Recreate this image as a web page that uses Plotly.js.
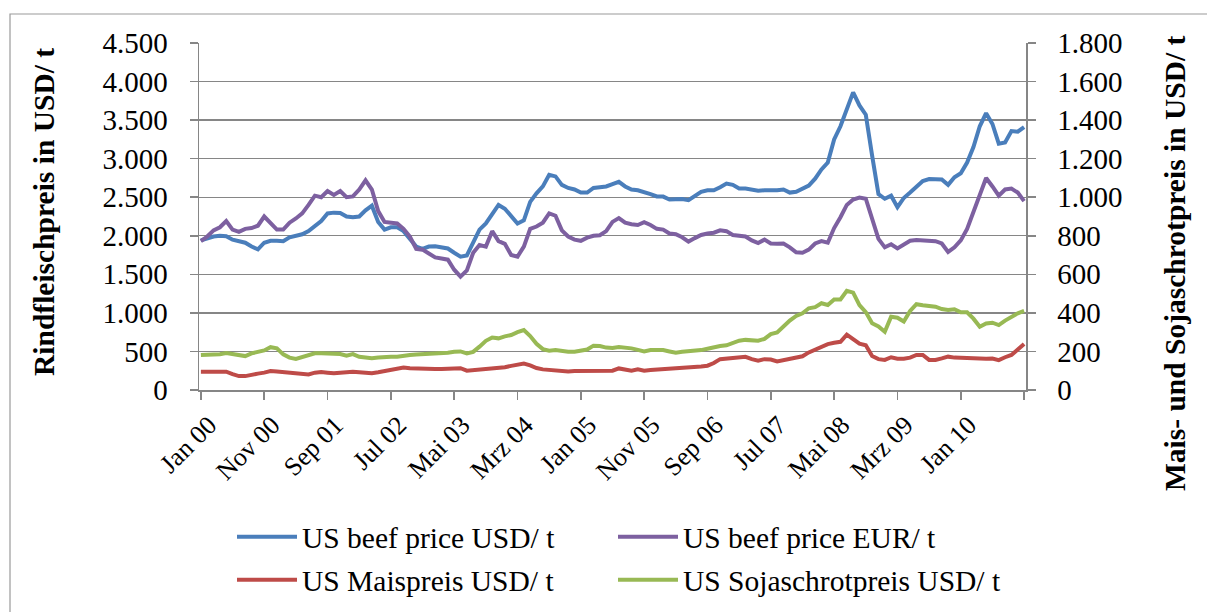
<!DOCTYPE html>
<html>
<head>
<meta charset="utf-8">
<script src="https://cdn.plot.ly/plotly-3.0.1.min.js"></script>
<style>
  html, body { margin: 0; padding: 0; background: #ffffff; }
  #chart { width: 1207px; height: 612px; }
</style>
</head>
<body>
<div id="chart"></div>
<script>
// ---- data (monthly, Jan 2000 - Nov 2010) ----
var monthNames = ["Jan","Feb","Mrz","Apr","Mai","Jun","Jul","Aug","Sep","Okt","Nov","Dez"];
var categories = [];
for (var k = 0; k < 131; k++) {
  var yy = Math.floor(k / 12), mm = k % 12;
  categories.push(monthNames[mm] + " " + (yy < 10 ? "0" + yy : "" + yy));
}
var tickLabels = ["Jan 00","Nov 00","Sep 01","Jul 02","Mai 03","Mrz 04","Jan 05","Nov 05","Sep 06","Jul 07","Mai 08","Mrz 09","Jan 10",""];

var beefUSD = [1940,1970,1990,2000,1995,1950,1925,1910,1860,1825,
  1910,1935,1935,1930,1980,2005,2020,2060,2130,2190,
  2290,2300,2296,2250,2240,2250,2330,2390,2180,2080,
  2110,2110,2060,1960,1860,1830,1860,1865,1845,1835,
  1780,1730,1745,1900,2080,2160,2290,2400,2350,2250,
  2160,2200,2440,2550,2640,2790,2770,2660,2620,2600,
  2560,2560,2620,2630,2640,2670,2700,2640,2600,2590,
  2568,2540,2510,2508,2470,2470,2478,2462,2520,2570,
  2590,2590,2630,2677,2660,2612,2612,2600,2585,2590,
  2585,2590,2600,2560,2570,2610,2650,2740,2860,2950,
  3250,3420,3650,3860,3690,3570,3040,2540,2480,2520,
  2370,2490,2560,2640,2710,2735,2735,2730,2660,2760,
  2810,2950,3150,3420,3590,3450,3195,3210,3358,3350,3410];

var beefEUR = [1930,1990,2070,2110,2190,2080,2050,2090,2100,2130,
  2250,2170,2080,2080,2170,2224,2290,2400,2520,2500,
  2580,2530,2580,2500,2510,2600,2720,2600,2320,2180,
  2165,2160,2090,1990,1830,1820,1770,1720,1705,1690,
  1560,1470,1550,1780,1880,1860,2060,1930,1895,1750,
  1730,1860,2090,2120,2170,2290,2260,2070,1990,1950,
  1935,1975,2000,2007,2060,2180,2230,2170,2150,2140,
  2175,2140,2090,2080,2030,2020,1980,1925,1970,2010,
  2030,2040,2070,2060,2010,2005,1990,1940,1905,1950,
  1900,1895,1900,1850,1785,1780,1820,1900,1930,1910,
  2100,2240,2400,2470,2495,2480,2200,1960,1850,1890,
  1835,1890,1935,1945,1940,1943,1930,1900,1790,1850,
  1940,2090,2320,2540,2750,2640,2520,2600,2612,2560,2450];

var maisUSD = [95,95,95,95,95,82,72,72,80,85,
  90,98,96,93,92,88,84,81,90,93,
  90,87,90,93,95,92,88,87,92,98,
  106,114,117,113,111,110,109,109,109,111,
  113,113,100,103,106,107,111,114,118,125,
  130,137,128,114,107,104,104,98,96,98,
  99,99,100,100,100,100,112,106,100,107,
  100,104,106,107,110,112,113,117,120,122,
  126,140,160,164,168,172,172,160,152,160,
  158,148,155,162,168,175,195,208,222,238,
  245,250,287,265,240,232,176,160,156,170,
  162,162,168,182,182,156,156,164,173,168,
  166,165,163,160,162,163,155,170,182,210,239];

var sojaUSD = [182,182,182,186,192,188,180,176,190,200,
  205,222,216,185,168,161,172,183,190,190,
  190,189,187,178,186,172,167,165,168,172,
  173,173,180,182,184,185,188,192,193,193,
  198,200,190,198,225,255,272,268,278,285,
  300,311,280,240,212,204,207,202,199,199,
  205,210,230,228,220,218,223,222,216,208,
  200,207,209,207,200,193,198,200,202,207,
  214,222,228,232,244,256,260,257,256,265,
  290,298,330,360,384,398,424,430,450,441,
  470,470,514,505,440,404,346,330,302,380,
  375,355,410,445,440,438,432,420,415,419,
  403,403,370,328,345,349,337,360,380,398,410];

var seriesNames = ["US beef price USD/ t","US beef price EUR/ t","US Maispreis USD/ t","US Sojaschrotpreis USD/ t"];
var seriesColors = ["#4A7EBB","#7D60A0","#BE4B48","#98B954"];

// ---- chart ----
var FONT = "Liberation Serif, Times New Roman, serif";
var GRID = "#868686";
var tickVals = [];
for (var t = 0; t < categories.length; t += 10) tickVals.push(categories[t]);

function mk(i, yvals, axis, leg) {
  return {
    type: "scatter", mode: "lines", x: categories, y: yvals,
    name: seriesNames[i], yaxis: axis, legend: leg,
    line: { color: seriesColors[i], width: 4 },
    hoverinfo: "skip"
  };
}
var data = [
  mk(0, beefUSD, "y", "legend"),
  mk(1, beefEUR, "y", "legend2"),
  mk(2, maisUSD, "y2", "legend3"),
  mk(3, sojaUSD, "y2", "legend4")
];

var W = 1207, H = 612;
var L = 199, R = 181, T = 43, B = 222;
var PW = W - L - R, PH = H - T - B;
function px(x) { return (x - L) / PW; }
function py(y) { return (H - B - y) / PH; }

function leg(xPix, yPix) {
  return {
    orientation: "h", xref: "container", yref: "container",
    xanchor: "left", yanchor: "middle",
    x: xPix / W, y: 1 - yPix / H, itemwidth: 60,
    font: { family: FONT, size: 29.5, color: "#000" }, bgcolor: "rgba(0,0,0,0)"
  };
}

var layout = {
  width: W, height: H,
  margin: { l: L, r: R, t: T, b: B, pad: 0 },
  paper_bgcolor: "#ffffff", plot_bgcolor: "#ffffff",
  separators: ",.",
  font: { family: FONT, size: 29, color: "#000000" },
  showlegend: true,
  xaxis: {
    type: "category", range: [-0.3, 130.3], automargin: false,
    tickmode: "array", tickvals: tickVals, ticktext: tickLabels,
    tickangle: -45, ticks: "outside", ticklen: 8, tickwidth: 1.5, tickcolor: GRID,
    showline: true, linecolor: GRID, linewidth: 1.5,
    showgrid: false, zeroline: false, ticklabelshift: 8,
    tickfont: { family: FONT, size: 26, color: "#000" }
  },
  yaxis: {
    range: [0, 4500], dtick: 500, tick0: 0, tickformat: ",", automargin: false,
    ticks: "outside", ticklen: 8, tickwidth: 1.5, tickcolor: GRID,
    showline: true, linecolor: GRID, linewidth: 1.5,
    showgrid: true, gridcolor: GRID, gridwidth: 1.3, zeroline: false,
    ticklabelstandoff: 16,
    tickfont: { family: FONT, size: 29, color: "#000" }
  },
  yaxis2: {
    overlaying: "y", side: "right", automargin: false,
    range: [0, 1800], dtick: 200, tick0: 0, tickformat: ",",
    ticks: "outside", ticklen: 8, tickwidth: 1.5, tickcolor: GRID,
    showline: true, linecolor: GRID, linewidth: 1.5,
    showgrid: false, zeroline: false,
    ticklabelstandoff: 16,
    tickfont: { family: FONT, size: 29, color: "#000" }
  },
  legend: leg(232, 537),
  legend2: leg(613, 537),
  legend3: leg(232, 580),
  legend4: leg(613, 580),
  annotations: [
    { text: "<b>Rindfleischpreis in USD/ t</b>", xref: "paper", yref: "paper",
      x: px(44), y: py(212), xanchor: "center", yanchor: "middle", textangle: -90,
      showarrow: false, font: { family: FONT, size: 29.5, color: "#000" } },
    { text: "<b>Mais- und Sojaschrotpreis in USD/ t</b>", xref: "paper", yref: "paper",
      x: px(1175), y: py(263), xanchor: "center", yanchor: "middle", textangle: -90,
      showarrow: false, font: { family: FONT, size: 29.5, color: "#000" } }
  ],
  shapes: [
    { type: "rect", xref: "paper", yref: "paper",
      x0: px(10), x1: px(1230), y0: py(640), y1: py(14),
      line: { color: "#9a9a9a", width: 1.2 }, fillcolor: "rgba(0,0,0,0)", layer: "below" }
  ]
};

Plotly.newPlot("chart", data, layout, { displayModeBar: false, staticPlot: true });
</script>
</body>
</html>
